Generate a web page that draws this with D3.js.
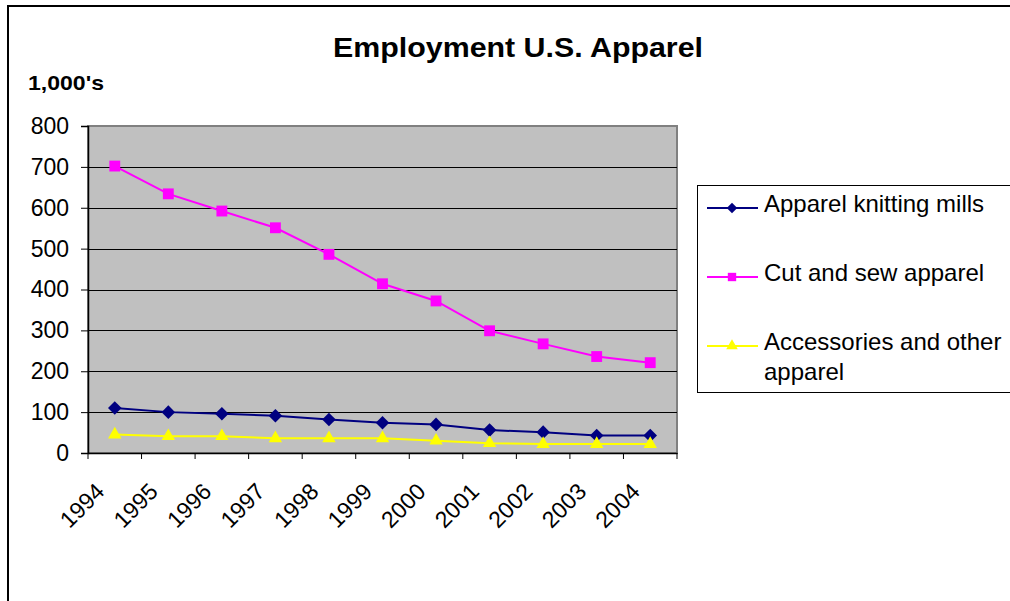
<!DOCTYPE html>
<html><head><meta charset="utf-8">
<script src="https://cdn.jsdelivr.net/npm/d3@7"></script>
<style>body{margin:0;background:#fff;}svg{display:block;font-family:"Liberation Sans",Arial,sans-serif;}</style>
</head><body>
<svg id="c" width="1010" height="601"></svg>
<script>
const years = ["1994","1995","1996","1997","1998","1999","2000","2001","2002","2003","2004"];
const knitting = [110,100,96,91,82,74,70,56,51,43,43];
const cutSew = [702,634,592,551,486,414,372,299,267,236,221];
const accessories = [45,41,41,36,36,36,30,24,22,22,22];
const yTicks = [0,100,200,300,400,500,600,700,800];
const seriesNames = ["Apparel knitting mills","Cut and sew apparel","Accessories and other apparel"];

const svg = d3.select("#c");
const L=88, R=677, T=126, B=453;
const x = d3.scaleBand().domain(years).range([L,R]);
const y = d3.scaleLinear().domain([0,800]).range([B,T]);

const diamond = {draw(ctx, size){ const r=Math.sqrt(size/2); ctx.moveTo(0,-r); ctx.lineTo(r,0); ctx.lineTo(0,r); ctx.lineTo(-r,0); ctx.closePath(); }};

// outer border
svg.append("rect").attr("x",8).attr("y",6).attr("width",1010).attr("height",610)
  .attr("fill","none").attr("stroke","#000").attr("stroke-width",2);

// plot area
svg.append("rect").attr("x",L).attr("y",T).attr("width",R-L).attr("height",B-T)
  .attr("fill","#c0c0c0").attr("stroke","#808080").attr("stroke-width",2);

// gridlines
svg.append("g").selectAll("line").data(yTicks.filter(d=>d>0&&d<800)).join("line")
  .attr("x1",L).attr("x2",R).attr("y1",d=>Math.round(y(d))+0.5).attr("y2",d=>Math.round(y(d))+0.5)
  .attr("stroke","#000").attr("stroke-width",1);

// y axis
const yAxis = d3.axisLeft(y).tickValues(yTicks).tickSize(7).tickPadding(12);
const gy = svg.append("g").attr("transform",`translate(${L},0)`).call(yAxis);
gy.select(".domain").attr("stroke","#000").attr("stroke-width",1.5);
gy.selectAll(".tick line").attr("stroke","#000");
gy.selectAll("text").attr("font-size",23).attr("fill","#000").attr("font-family","Liberation Sans, Arial, sans-serif");

// x axis
const xAxis = d3.axisBottom(x).tickSize(0).tickFormat("");
const gx = svg.append("g").attr("transform",`translate(0,${B})`).call(xAxis);
gx.select(".domain").attr("stroke","#000").attr("stroke-width",1.5);
const bounds = years.map(d=>x(d)).concat([R]);
gx.selectAll(".bt").data(bounds).join("line").attr("class","bt")
  .attr("x1",d=>d).attr("x2",d=>d).attr("y1",0).attr("y2",6).attr("stroke","#000");
svg.append("g").selectAll("text").data(years).join("text")
  .attr("transform",d=>`translate(${x(d)+x.bandwidth()/2-9},${493}) rotate(-45)`)
  .attr("text-anchor","end").attr("font-size",23).attr("fill","#000").text(d=>d);

// series
const cx = d=>x(d)+x.bandwidth()/2;
const series = [
  {name:seriesNames[0], vals:knitting, color:"#000080", sym:diamond, size:92, lsize:55},
  {name:seriesNames[1], vals:cutSew, color:"#ff00ff", sym:d3.symbolSquare, size:118, lsize:70},
  {name:seriesNames[2], vals:accessories, color:"#ffff00", sym:d3.symbolTriangle, size:78, lsize:58}
];
const line = d3.line().x(d=>cx(d.year)).y(d=>y(d.v));
series.forEach(s=>{
  const pts = years.map((yr,i)=>({year:yr,v:s.vals[i]}));
  svg.append("path").datum(pts).attr("d",line).attr("fill","none").attr("stroke",s.color).attr("stroke-width",2);
  svg.append("g").selectAll("path").data(pts).join("path")
    .attr("transform",d=>`translate(${cx(d.year)},${y(d.v)})`)
    .attr("d",d3.symbol().type(s.sym).size(s.size)).attr("fill",s.color);
});

// title
svg.append("text").attr("x",518).attr("y",57).attr("text-anchor","middle")
  .attr("font-size",28).attr("font-weight","bold").attr("textLength",370).attr("lengthAdjust","spacingAndGlyphs")
  .text("Employment U.S. Apparel");
svg.append("text").attr("x",28).attr("y",90).attr("font-size",21).attr("font-weight","bold")
  .attr("textLength",76).attr("lengthAdjust","spacingAndGlyphs").text("1,000's");

// legend
svg.append("rect").attr("x",697.5).attr("y",185.5).attr("width",330).attr("height",207)
  .attr("fill","#fff").attr("stroke","#000").attr("stroke-width",1);
const legY = [208, 277, 346];
series.forEach((s,i)=>{
  const g = svg.append("g");
  g.append("line").attr("x1",707).attr("x2",758).attr("y1",legY[i]).attr("y2",legY[i]).attr("stroke",s.color).attr("stroke-width",2);
  g.append("path").attr("transform",`translate(732,${legY[i]})`).attr("d",d3.symbol().type(s.sym).size(s.lsize)).attr("fill",s.color);
});
const legText = [["Apparel knitting mills"],["Cut and sew apparel"],["Accessories and other","apparel"]];
legText.forEach((lines,i)=>{
  lines.forEach((t,j)=>{
    svg.append("text").attr("x",764).attr("y",legY[i]+4+j*30).attr("font-size",24).attr("fill","#000").text(t);
  });
});
</script>
</body></html>
